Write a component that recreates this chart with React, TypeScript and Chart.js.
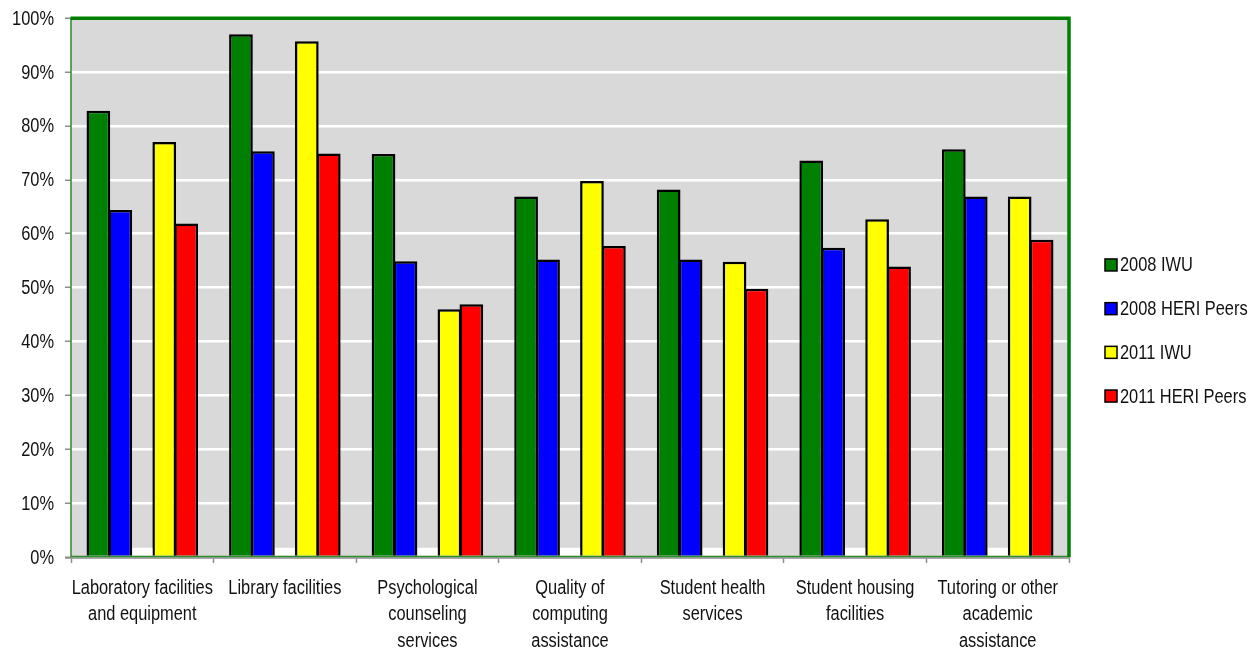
import React, { useEffect, useRef } from "react";
import { Chart, registerables } from "chart.js";

Chart.register(...registerables);

const categories: (string | string[])[] = [
  ["Laboratory facilities", "and equipment"],
  "Library facilities",
  ["Psychological", "counseling", "services"],
  ["Quality of", "computing", "assistance"],
  ["Student health", "services"],
  ["Student housing", "facilities"],
  ["Tutoring or other", "academic", "assistance"],
];

const iwu2008 = [82.8, 97, 74.8, 66.9, 68.2, 73.6, 75.7];
const heri2008 = [64.4, 75.3, 54.9, 55.2, 55.2, 57.4, 66.9];
const spacer = [1.7, 1.7, 1.7, 1.7, 1.7, 1.7, 1.7];
const iwu2011 = [77, 95.7, 46, 69.8, 54.8, 62.7, 66.9];
const heri2011 = [61.9, 74.9, 46.9, 57.7, 49.8, 53.9, 58.9];

const yTicks = [0, 10, 20, 30, 40, 50, 60, 70, 80, 90, 100];

const FONT = "'Liberation Sans', Arial, sans-serif";
const TEXT_SIZE = 20;
// horizontal squeeze giving a narrow sans face
const NARROW = 0.82;

const legendItems = [
  { text: "2008 IWU", color: "#008000" },
  { text: "2008 HERI Peers", color: "#0000ff" },
  { text: "2011 IWU", color: "#ffff00" },
  { text: "2011 HERI Peers", color: "#ff0000" },
];

function narrowText(ctx: CanvasRenderingContext2D, text: string, x: number, y: number, align: CanvasTextAlign) {
  ctx.save();
  ctx.translate(x, y);
  ctx.scale(NARROW, 1);
  ctx.textAlign = align;
  ctx.fillText(text, 0, 0);
  ctx.restore();
}

// Gray plot background, green frame, narrow axis labels and the side legend
const framePlugin = {
  id: "frame",
  beforeDraw(chart: any) {
    const { ctx, chartArea: a } = chart;
    ctx.save();
    ctx.fillStyle = "#d9d9d9";
    ctx.fillRect(a.left, a.top, a.right - a.left, a.bottom - a.top);
    ctx.restore();
  },
  afterDatasetsDraw(chart: any) {
    const { ctx, chartArea: a } = chart;
    ctx.save();
    ctx.strokeStyle = "#8c8c8c";
    ctx.lineWidth = 1.5;
    ctx.beginPath();
    ctx.moveTo(a.left - 6, a.bottom + 1);
    ctx.lineTo(a.right, a.bottom + 1);
    ctx.stroke();
    ctx.strokeStyle = "#2e8b2e";
    ctx.lineWidth = 1.5;
    ctx.beginPath();
    ctx.moveTo(a.left, a.top);
    ctx.lineTo(a.left, a.bottom - 0.5);
    ctx.lineTo(a.right, a.bottom - 0.5);
    ctx.stroke();
    ctx.strokeStyle = "#008000";
    ctx.lineWidth = 3.5;
    ctx.beginPath();
    ctx.moveTo(a.left - 0.5, a.top);
    ctx.lineTo(a.right, a.top);
    ctx.lineTo(a.right, a.bottom);
    ctx.stroke();
    ctx.restore();
  },
  afterDraw(chart: any) {
    const { ctx, chartArea: a } = chart;
    const xScale = chart.scales.x;
    const yScale = chart.scales.y;
    ctx.save();
    ctx.font = `${TEXT_SIZE}px ${FONT}`;
    ctx.fillStyle = "#111";
    ctx.textBaseline = "middle";

    // y axis labels
    yScale.ticks.forEach((t: any) => {
      narrowText(ctx, `${t.value}%`, a.left - 17, yScale.getPixelForValue(t.value) + 1, "right");
    });

    // category labels
    const lineH = 26.6;
    categories.forEach((c, i) => {
      const lines = Array.isArray(c) ? c : [c];
      const x = xScale.getPixelForTick(i);
      lines.forEach((ln, j) => {
        narrowText(ctx, ln, x, a.bottom + 31 + j * lineH, "center");
      });
    });

    // legend
    const boxX = a.right + 36;
    const mid = chart.height / 2 + 4.5;
    const step = 43.7;
    legendItems.forEach((item, i) => {
      const cy = mid + (i - 1.5) * step;
      ctx.fillStyle = item.color;
      ctx.fillRect(boxX, cy - 6, 12, 12);
      ctx.strokeStyle = "#000";
      ctx.lineWidth = 1.5;
      ctx.strokeRect(boxX, cy - 6, 12, 12);
      ctx.fillStyle = "#111";
      narrowText(ctx, item.text, boxX + 15, cy + 1, "left");
    });
    ctx.restore();
  },
};

export default function App() {
  const canvasRef = useRef<HTMLCanvasElement | null>(null);

  useEffect(() => {
    if (!canvasRef.current) return;
    const barStyle = {
      borderColor: "#000",
      borderWidth: 2.5,
      borderSkipped: "start" as const,
    };
    const chart = new Chart(canvasRef.current, {
      type: "bar",
      data: {
        labels: categories,
        datasets: [
          { label: "2008 IWU", data: iwu2008, backgroundColor: "#008000", ...barStyle },
          { label: "2008 HERI Peers", data: heri2008, backgroundColor: "#0000ff", ...barStyle },
          {
            label: "",
            data: spacer,
            backgroundColor: "#ffffff",
            borderWidth: 0,
            barPercentage: 0.92,
          },
          { label: "2011 IWU", data: iwu2011, backgroundColor: "#ffff00", ...barStyle },
          { label: "2011 HERI Peers", data: heri2011, backgroundColor: "#ff0000", ...barStyle },
        ],
      },
      options: {
        animation: false,
        responsive: false,
        maintainAspectRatio: false,
        datasets: {
          bar: { categoryPercentage: 0.77, barPercentage: 1.08 },
        },
        layout: { padding: { left: 0, right: 189, top: 12, bottom: 0 } },
        plugins: {
          legend: { display: false },
          tooltip: { enabled: false },
        },
        scales: {
          x: {
            grid: {
              offset: true,
              drawOnChartArea: false,
              drawTicks: true,
              tickLength: 6,
              tickColor: "#8c8c8c",
              tickWidth: 1.5,
            },
            border: { display: false },
            ticks: {
              color: "rgba(0,0,0,0)",
              padding: 12,
              maxRotation: 0,
              autoSkip: false,
              font: { family: FONT, size: 12 },
            },
            afterFit(scale: any) {
              scale.height = 95;
            },
          },
          y: {
            min: 0,
            max: 100,
            afterBuildTicks(scale: any) {
              scale.ticks = yTicks.map((v) => ({ value: v }));
            },
            grid: {
              color: "#ffffff",
              lineWidth: 2.5,
              tickLength: 6,
              tickColor: "#8c8c8c",
              tickWidth: 1.5,
            },
            border: { display: false },
            ticks: {
              color: "rgba(0,0,0,0)",
              padding: 11,
              font: { family: FONT, size: 12 },
              callback: (v: any) => `${v}%`,
            },
            afterFit(scale: any) {
              scale.width = 71;
            },
          },
        },
      },
      plugins: [framePlugin],
    });
    return () => chart.destroy();
  }, []);

  return (
    <div style={{ position: "fixed", left: 0, top: 0, width: 1258, height: 652, background: "#fff" }}>
      <canvas ref={canvasRef} width={1258} height={652} style={{ display: "block" }} />
    </div>
  );
}
